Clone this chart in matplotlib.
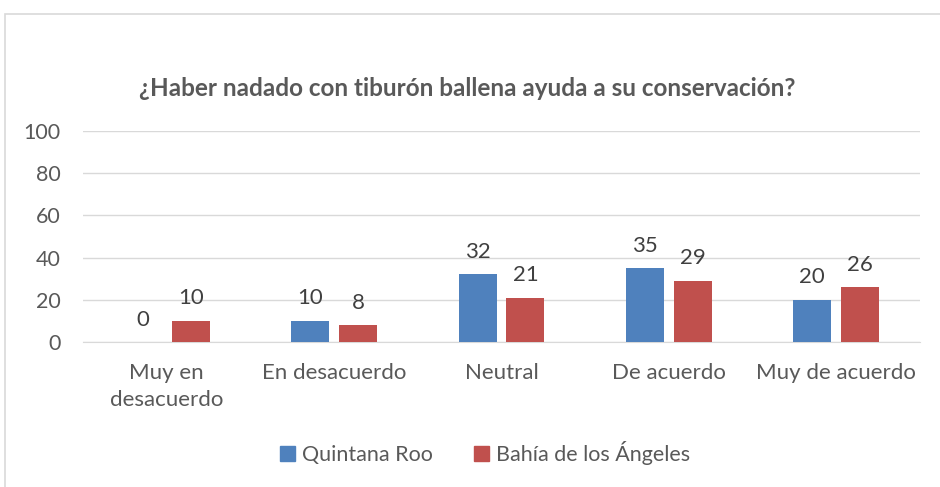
import matplotlib
matplotlib.use("Agg")
import matplotlib.pyplot as plt
import numpy as np
from matplotlib.patches import Rectangle, Patch

CATEGORIAS = ["Muy en\ndesacuerdo", "En desacuerdo", "Neutral", "De acuerdo", "Muy de acuerdo"]
QUINTANA_ROO = [0, 10, 32, 35, 20]
BAHIA = [10, 8, 21, 29, 26]
SERIES = ["Quintana Roo", "Bahía de los Ángeles"]
YTICKS = [0, 20, 40, 60, 80, 100]

AZUL = "#4F81BD"
ROJO = "#C0504D"
GRIS = "#595959"
GRILLA = "#D9D9D9"

plt.rcParams["font.family"] = ["Lato", "DejaVu Sans"]

fig = plt.figure(figsize=(9.4, 4.87), dpi=100)
fig.patches.append(Rectangle((5 / 940, -0.1), 2, 1.1 - 14 / 487, transform=fig.transFigure,
                             fill=False, edgecolor=GRILLA, linewidth=1.2))

ax = fig.add_axes([83 / 940, 145 / 487, 837 / 940, 211 / 487])
x = np.arange(len(CATEGORIAS))
ancho = 0.227
desp = 0.143
b1 = ax.bar(x - desp, QUINTANA_ROO, ancho, color=AZUL, zorder=3)
b2 = ax.bar(x + desp, BAHIA, ancho, color=ROJO, zorder=3)
for barras in (b1, b2):
    ax.bar_label(barras, padding=9, fontsize=16, color="#404040")

ax.set_xlim(-0.5, len(CATEGORIAS) - 0.5)
ax.set_ylim(0, 100)
ax.set_yticks(YTICKS)
ax.set_xticks(x)
ax.set_xticklabels(CATEGORIAS, fontsize=16, color=GRIS, linespacing=1.45)
ax.tick_params(axis="y", labelsize=15.5, labelcolor=GRIS, length=0, pad=16)
ax.tick_params(axis="x", length=0, pad=15)
ax.grid(axis="y", color=GRILLA, linewidth=1, zorder=0)
for lado in ("top", "right", "left"):
    ax.spines[lado].set_visible(False)
ax.spines["bottom"].set_color(GRILLA)

fig.text(0.497, (487 - 88) / 487, "¿Haber nadado con tiburón ballena ayuda a su conservación?",
         ha="center", va="center", fontsize=17.5, fontweight="bold", color=GRIS)

manijas = [Patch(color=AZUL), Patch(color=ROJO)]
fig.legend(manijas, SERIES, loc="center", bbox_to_anchor=(0.516, (487 - 453) / 487),
           ncol=2, frameon=False, fontsize=15.5, labelcolor=GRIS,
           handlelength=0.68, handleheight=0.68, handletextpad=0.35, columnspacing=1.9)

fig.savefig("out.png", dpi=100)
plt.close(fig)
